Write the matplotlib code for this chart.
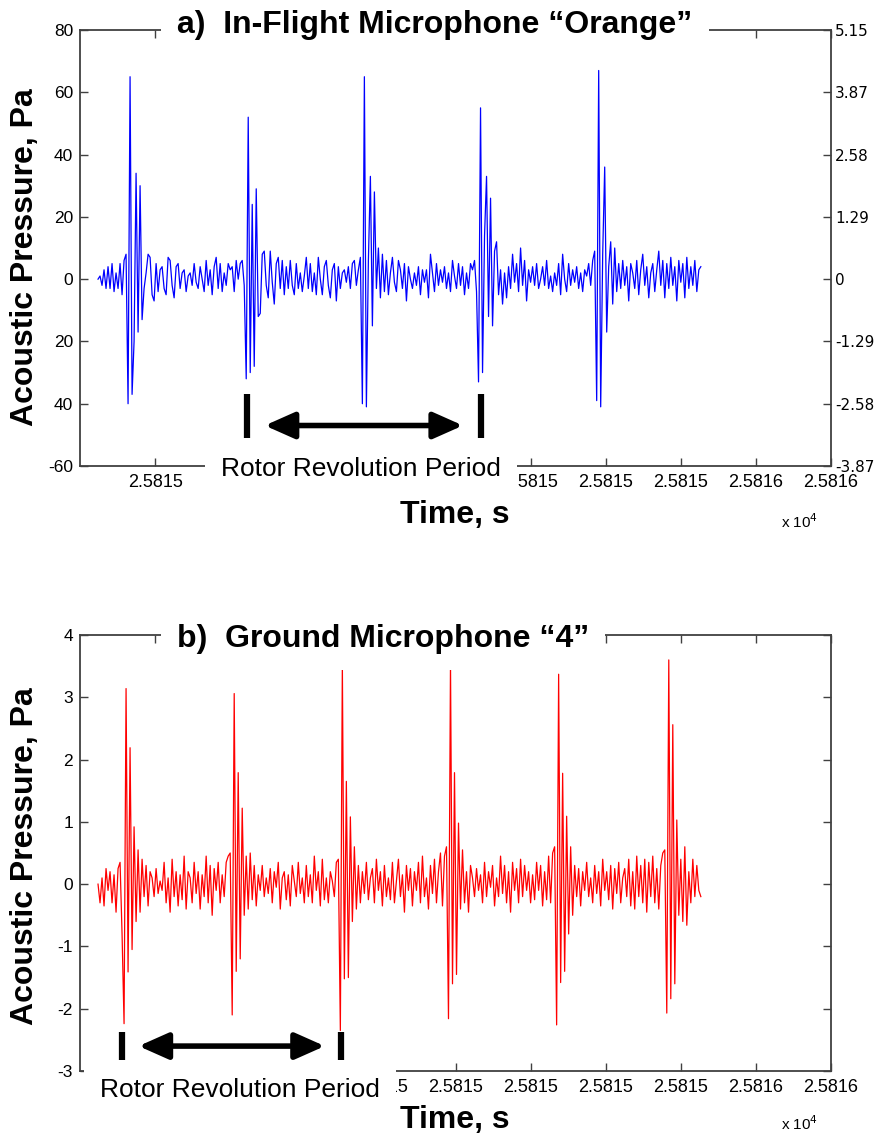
import numpy as np
import matplotlib
matplotlib.use('Agg')
import matplotlib.pyplot as plt

# ---------------- data (one sample every 1.33 ms) ----------------
fs = 750.0
t0_orange = 25815.062      # [s] first sample, in-flight mic
t0_ground = 25815.062      # [s] first sample, ground mic

# in-flight microphone "Orange" [Pa]
p_orange = [
    0, 1, -2, 3, -3, 4, -3, 5, -4, 2,
    -3, 5, -5, 6, 8, -40, 65, -37, -20, 34,
    -17, 30, -13, -3, 2, 8, 7, -5, -7, 5,
    -4, 3, 4, -3, -5, 7, 6, -2, -6, 4,
    5, -3, 2, 3, -4, 1, 2, -2, 5, -1,
    -3, 4, 0, -4, 6, -2, 3, -5, 4, 7,
    -3, 5, -4, 2, -2, 5, 3, 4, -4, 6,
    0, 5, 6, -2, -32, 52, -30, 24, -28, 29,
    -12, -11, 8, 9, -2, -6, 9, -1, -8, 5,
    7, -3, 6, -5, 4, -3, 6, -2, -5, 5,
    -3, 2, -4, 1, 7, -3, 5, -4, 2, -5,
    7, 0, -5, 4, 6, -2, -6, 3, 5, -7,
    4, -3, 2, 3, -1, 4, -3, 5, 6, -2,
    3, 7, -40, 65, -41, 6, 33, -15, 28, -3,
    10, -6, 8, -4, 6, -5, 2, 7, -1, -4,
    6, 3, -3, 5, -7, 4, 0, -3, 2, -2,
    4, -5, 3, -1, 3, -6, 8, 2, -4, 5,
    -2, 3, -1, 4, -3, 2, -4, 6, 1, -3,
    5, -2, 4, -5, 2, -3, 5, 3, 6, -4,
    -33, 55, -30, 14, 33, -12, 26, -15, 9, 12,
    -5, 3, -8, 2, -6, 4, -3, 8, -1, 5,
    -4, 10, -2, 6, -7, 3, -1, 4, -2, 5,
    -3, 0, 4, -2, 6, -3, 1, -4, 2, -2,
    5, -5, 8, 0, -4, 5, -2, 3, -1, 4,
    -3, 2, -4, 3, 1, 5, -2, 6, 9, -39,
    67, -41, 8, 36, -17, 4, 12, -8, 10, -4,
    5, -3, 6, -2, 4, -7, 5, 2, -3, 6,
    -5, 3, 8, -2, 4, -6, 2, 5, -4, 3,
    9, -2, 6, -6, 5, -3, 7, -2, 4, -7,
    6, -1, 5, -6, 7, -3, 4, -2, 6, -4,
    3, 4]

# ground microphone "4" [Pa]
p_ground = [
    0.0, -0.3, 0.1, -0.35, 0.25, -0.1, 0.2, -0.3, 0.15, -0.45,
    0.25, 0.35, -0.8, -2.24, 3.14, -1.41, 2.19, -1.05, 0.92, -0.6,
    0.55, -0.45, 0.4, -0.2, 0.3, -0.35, 0.2, 0.1, -0.2, 0.25,
    -0.15, 0.05, -0.1, 0.35, -0.3, 0.1, -0.45, 0.4, -0.2, 0.2,
    -0.35, 0.15, -0.25, 0.45, -0.4, 0.2, 0.1, -0.3, 0.35, -0.15,
    0.2, -0.4, 0.15, -0.2, 0.45, -0.3, 0.3, -0.5, 0.25, -0.1,
    0.35, -0.3, 0.15, -0.2, 0.35, 0.45, 0.5, -2.1, 3.06, -1.4,
    1.79, -1.2, 1.22, -0.5, 0.45, -0.4, 0.5, -0.25, 0.3, -0.35,
    0.15, -0.1, 0.3, -0.2, 0.1, -0.15, 0.25, -0.3, 0.2, -0.05,
    0.35, -0.4, 0.1, 0.2, -0.25, 0.15, -0.35, 0.3, 0.05, -0.2,
    0.35, -0.15, 0.1, -0.3, 0.3, -0.2, 0.15, -0.3, 0.45, -0.1,
    0.2, -0.35, 0.4, -0.25, 0.1, -0.3, 0.2, 0.05, -0.2, 0.35,
    0.4, -2.35, 3.53, -1.52, 1.65, -1.5, 1.08, -0.6, 0.6, -0.4,
    0.3, -0.3, 0.2, -0.15, 0.35, -0.25, 0.1, 0.25, -0.3, 0.4,
    -0.1, 0.2, -0.35, 0.3, -0.2, 0.1, -0.25, 0.35, -0.3, 0.05,
    0.4, -0.2, 0.15, -0.45, 0.3, -0.1, 0.25, -0.35, 0.2, -0.1,
    0.35, -0.3, 0.45, -0.2, 0.1, -0.4, 0.3, -0.15, 0.4, -0.3,
    0.2, 0.5, -0.35, 0.45, 0.6, -2.16, 3.56, -1.6, 1.79, -1.45,
    0.98, -0.4, 0.55, -0.3, 0.2, -0.45, 0.3, 0.1, -0.2, 0.25,
    -0.1, 0.15, -0.3, 0.35, -0.2, 0.2, -0.05, 0.3, -0.35, 0.1,
    -0.2, 0.45, -0.15, 0.3, -0.3, 0.2, -0.45, 0.35, -0.1, 0.25,
    -0.3, 0.4, -0.2, 0.3, -0.1, 0.2, -0.3, 0.15, -0.25, 0.35,
    -0.1, 0.3, -0.35, 0.2, -0.25, 0.45, -0.3, 0.5, 0.6, -2.26,
    3.37, -1.58, 1.78, -1.4, 1.09, -0.8, 0.6, -0.5, 0.3, -0.2,
    0.25, -0.35, 0.2, -0.1, 0.35, -0.2, 0.1, -0.3, 0.3, -0.15,
    0.2, -0.35, 0.4, -0.1, 0.2, -0.25, 0.3, -0.4, 0.25, -0.15,
    0.35, -0.3, 0.1, 0.25, -0.2, 0.4, -0.35, 0.2, -0.4, 0.45,
    -0.2, 0.3, -0.3, 0.4, -0.45, 0.35, -0.2, 0.45, -0.3, 0.25,
    -0.4, 0.3, 0.5, 0.55, -2.07, 3.6, -1.84, 2.56, -1.6, 1.03,
    -0.5, 0.4, -0.6, 0.6, -0.66, 0.2, -0.3, 0.4, -0.2, 0.3,
    -0.1, -0.2]

time_lim = (25815.05, 25815.55)
time_ticks = [25815.10, 25815.15, 25815.20, 25815.25, 25815.30,
              25815.35, 25815.40, 25815.45, 25815.50, 25815.55]
# labels hidden behind the "Rotor Revolution Period" boxes are left blank
time_ticklabels_a = ['2.5815', '', '', '', '',
                     '2.5815', '2.5815', '2.5815', '2.5816', '2.5816']
time_ticklabels_b = ['', '', '', '2.5815', '2.5815',
                     '2.5815', '2.5815', '2.5815', '2.5816', '2.5816']

ya_ticks = [-60, -40, -20, 0, 20, 40, 60, 80]
ya_labels = ['-60', '40', '20', '0', '20', '40', '60', '80']   # as printed
ya_right_labels = ['-3.87', '-2.58', '-1.29', '0', '1.29', '2.58', '3.87', '5.15']
yb_ticks = [-3, -2, -1, 0, 1, 2, 3, 4]
yb_labels = ['-3', '-2', '-1', '0', '1', '2', '3', '4']

period_a = (25815.161, 25815.317)   # bars, one rotor revolution
period_b = (25815.078, 25815.224)

# ---------------- styling ----------------
TICKF = ['Liberation Sans', 'DejaVu Sans']
BOLD = ['Liberation Sans', 'DejaVu Sans']
SPINE = '#404040'

fig = plt.figure(figsize=(8.75, 11.4), dpi=100)
ax_a = fig.add_axes([80/875, 1-466/1140, 751/875, 436/1140])
ax_b = fig.add_axes([80/875, 1-1071/1140, 751/875, 436/1140])


def style_axes(ax, ticklabels, yticks, ylabels, right=True):
    ax.set_xlim(*time_lim)
    ax.set_xticks(time_ticks)
    ax.set_xticklabels(ticklabels, family=TICKF, fontsize=13)
    ax.set_yticks(yticks)
    ax.set_yticklabels(ylabels, family=TICKF, fontsize=12.5)
    ax.set_ylim(yticks[0], yticks[-1])
    ax.tick_params(direction='in', length=6, width=1, color=SPINE,
                   top=True, right=right)
    ax.tick_params(axis='x', pad=6)
    ax.tick_params(axis='y', pad=5)
    for s in ax.spines.values():
        s.set_color(SPINE)
        s.set_linewidth(1.3)


def period_marks(ax, t1, t2, y_lo, y_hi, y_arr, gap):
    for t in (t1, t2):
        ax.plot([t, t], [y_lo, y_hi], color='black', lw=4.5,
                solid_capstyle='butt', zorder=4)
    ax.annotate('', xy=(t2 - gap, y_arr), xytext=(t1 + gap, y_arr),
                arrowprops=dict(arrowstyle='<|-|>,head_length=0.9,head_width=0.4',
                                lw=4, color='black', mutation_scale=20,
                                shrinkA=0, shrinkB=0), zorder=4)


def box_text(ax, x, y, s, pad=0.55, **kw):
    ax.text(x, y, s, transform=ax.transAxes, ha='center', va='baseline',
            zorder=5, bbox=dict(facecolor='white', edgecolor='none',
                                boxstyle='square,pad=%.2f' % pad), **kw)


# ---- panel a ----
t_a = t0_orange + np.arange(len(p_orange)) / fs
ax_a.plot(t_a, p_orange, color='#0000ff', lw=0.9)
style_axes(ax_a, time_ticklabels_a, ya_ticks, ya_labels, right=False)

ax_a2 = ax_a.twinx()
ax_a2.set_ylim(ya_ticks[0], ya_ticks[-1])
ax_a2.set_yticks(ya_ticks)
ax_a2.set_yticklabels(ya_right_labels, family=['DejaVu Sans'], fontsize=11)
ax_a2.tick_params(direction='in', length=6, width=1, color=SPINE, pad=3)
for s in ax_a2.spines.values():
    s.set_visible(False)

period_marks(ax_a, period_a[0], period_a[1], -37, -51, -47, 0.012)
box_text(ax_a, 0.4727, 0.993, 'a)  In-Flight Microphone \u201cOrange\u201d',
         pad=0.5, family=BOLD, fontweight='bold', fontsize=23)
box_text(ax_a, 0.3742, -0.0229, 'Rotor Revolution Period',
         pad=0.6, family=TICKF, fontsize=19)

fig.text(25/875, 1-257/1140, 'Acoustic Pressure, Pa', rotation=90,
         ha='center', va='center', family=BOLD, fontweight='bold', fontsize=23)
fig.text(455/875, 1-515/1140, 'Time, s', ha='center', va='center',
         family=BOLD, fontweight='bold', fontsize=23)
fig.text(800/875, 1-522/1140, r'x 10$^4$', ha='center', va='center',
         family=TICKF, fontsize=11)

# ---- panel b ----
t_b = t0_ground + np.arange(len(p_ground)) / fs
ax_b.plot(t_b, p_ground, color='#ff0000', lw=0.9)
style_axes(ax_b, time_ticklabels_b, yb_ticks, yb_labels, right=True)

period_marks(ax_b, period_b[0], period_b[1], -2.37, -2.82, -2.6, 0.011)
box_text(ax_b, 0.4035, 0.9725, 'b)  Ground Microphone \u201c4\u201d',
         pad=0.5, family=BOLD, fontweight='bold', fontsize=23)
box_text(ax_b, 0.2130, -0.0596, 'Rotor Revolution Period',
         pad=0.6, family=TICKF, fontsize=19)

fig.text(25/875, 1-856/1140, 'Acoustic Pressure, Pa', rotation=90,
         ha='center', va='center', family=BOLD, fontweight='bold', fontsize=23)
fig.text(455/875, 1-1120/1140, 'Time, s', ha='center', va='center',
         family=BOLD, fontweight='bold', fontsize=23)
fig.text(800/875, 1-1124/1140, r'x 10$^4$', ha='center', va='center',
         family=TICKF, fontsize=11)

fig.savefig('out.png', dpi=100)
